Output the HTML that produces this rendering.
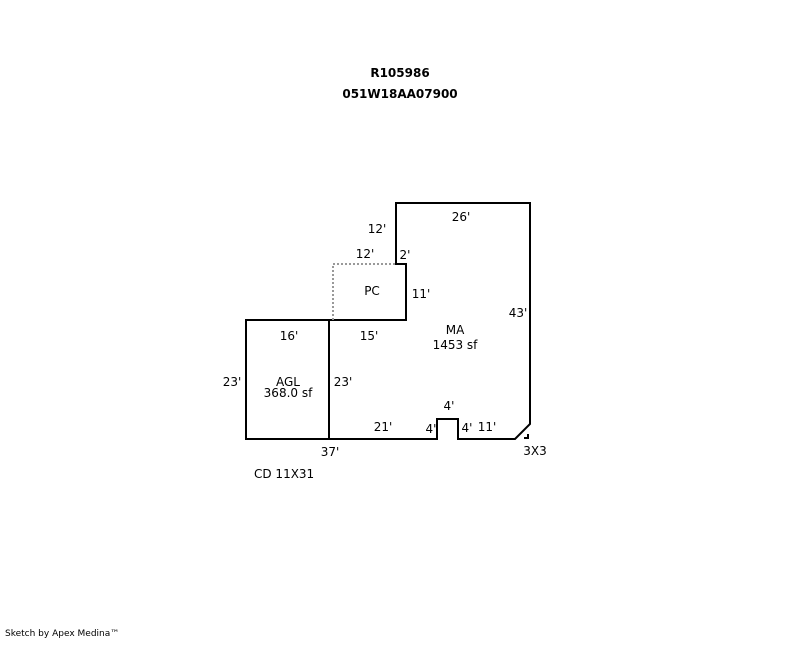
<!DOCTYPE html>
<html><head><style>
body{margin:0;background:#fff}
svg text{font-family:"DejaVu Sans","Liberation Sans",sans-serif;font-size:12px;fill:#000}
</style></head><body>
<svg width="800" height="640" xmlns="http://www.w3.org/2000/svg">
<text x="400" y="77" text-anchor="middle" font-weight="bold" style="font-size:12px">R105986</text>
<text x="400" y="98" text-anchor="middle" font-weight="bold" style="font-size:12px">051W18AA07900</text>
<g fill="none" stroke="#000" stroke-width="2">
<polyline points="329,320 406,320 406,264 396,264 396,203 530,203 530,424 515,439 458,439 458,419 437,419 437,439 329,439"/>
<rect x="246" y="320" width="83" height="119"/>
<polyline points="524,438 528,438 528,434" stroke-width="2"/>
</g>
<polyline points="333,320 333,264 396,264" fill="none" stroke="#999" stroke-width="2" stroke-dasharray="2,2"/>
<text x="461" y="221" text-anchor="middle">26'</text>
<text x="377" y="233" text-anchor="middle">12'</text>
<text x="365" y="258" text-anchor="middle">12'</text>
<text x="405" y="259" text-anchor="middle">2'</text>
<text x="372" y="295" text-anchor="middle">PC</text>
<text x="421" y="298" text-anchor="middle">11'</text>
<text x="518" y="317" text-anchor="middle">43'</text>
<text x="289" y="340" text-anchor="middle">16'</text>
<text x="369" y="340" text-anchor="middle">15'</text>
<text x="455" y="334" text-anchor="middle">MA</text>
<text x="455" y="349" text-anchor="middle">1453 sf</text>
<text x="232" y="386" text-anchor="middle">23'</text>
<text x="288" y="386" text-anchor="middle">AGL</text>
<text x="288" y="397" text-anchor="middle">368.0 sf</text>
<text x="343" y="386" text-anchor="middle">23'</text>
<text x="449" y="410" text-anchor="middle">4'</text>
<text x="383" y="431" text-anchor="middle">21'</text>
<text x="431" y="433" text-anchor="middle">4'</text>
<text x="467" y="432" text-anchor="middle">4'</text>
<text x="487" y="431" text-anchor="middle">11'</text>
<text x="330" y="456" text-anchor="middle">37'</text>
<text x="535" y="455" text-anchor="middle">3X3</text>
<text x="254" y="478">CD 11X31</text>
<text x="5" y="636" style="font-size:9px">Sketch by Apex Medina™</text>
</svg>
</body></html>
